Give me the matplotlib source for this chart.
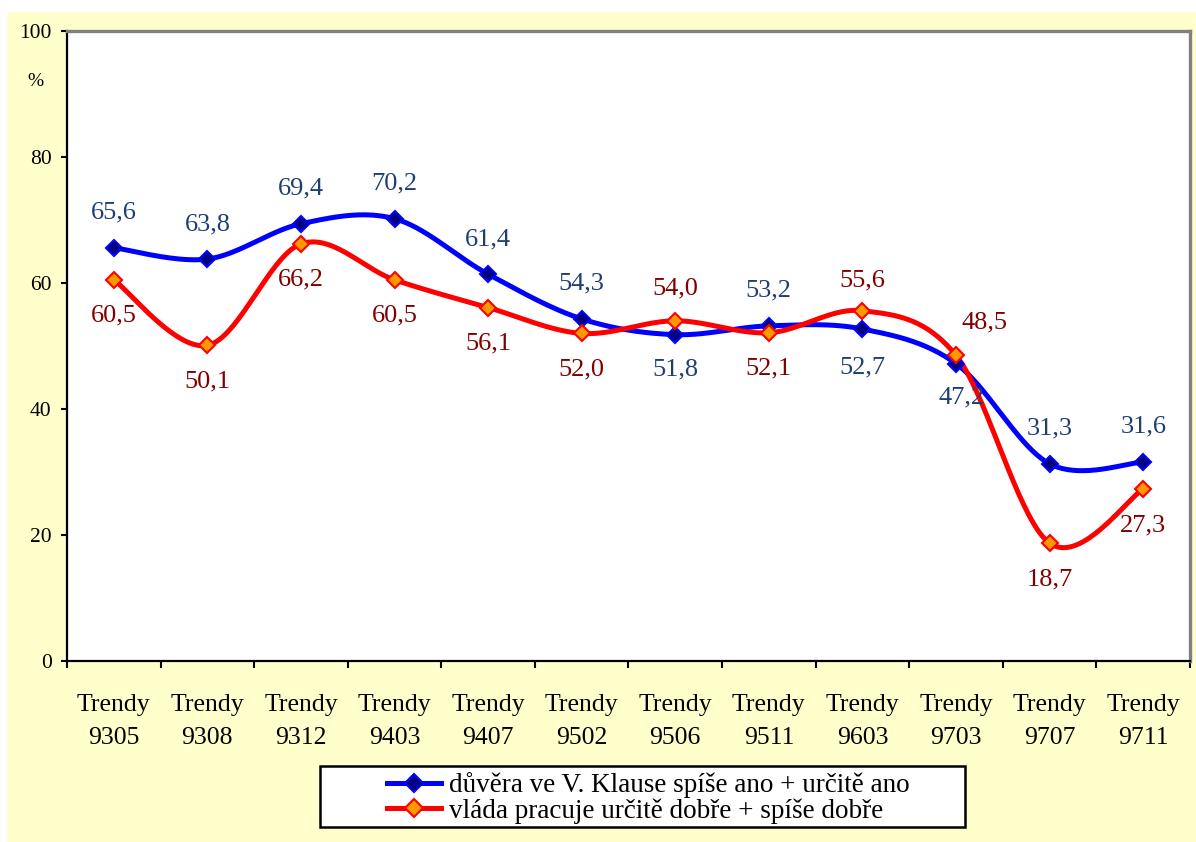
import numpy as np
import matplotlib
matplotlib.use("Agg")
import matplotlib.pyplot as plt
from matplotlib.patches import Rectangle
from matplotlib.lines import Line2D

# ---------------- data ----------------
categories = ["Trendy\n9305", "Trendy\n9308", "Trendy\n9312", "Trendy\n9403",
              "Trendy\n9407", "Trendy\n9502", "Trendy\n9506", "Trendy\n9511",
              "Trendy\n9603", "Trendy\n9703", "Trendy\n9707", "Trendy\n9711"]
klaus = [65.6, 63.8, 69.4, 70.2, 61.4, 54.3, 51.8, 53.2, 52.7, 47.2, 31.3, 31.6]
vlada = [60.5, 50.1, 66.2, 60.5, 56.1, 52.0, 54.0, 52.1, 55.6, 48.5, 18.7, 27.3]
series_names = ["důvěra ve V. Klause spíše ano + určitě ano",
                "vláda pracuje určitě dobře + spíše dobře"]
yticks = [0, 20, 40, 60, 80, 100]

# label offsets in pixels (dx, dy)
klaus_off = [(0, 35)] * 12
klaus_off[6] = (0, -35)
klaus_off[8] = (0, -38)
klaus_off[9] = (6, -34)
vlada_off = [(0, -36)] * 12
vlada_off[6] = (0, 32)
vlada_off[8] = (0, 30)
vlada_off[9] = (28, 33)

plt.rcParams["font.family"] = ["Liberation Serif", "DejaVu Serif"]


def smooth(xs, ys, n=40):
    P = np.column_stack([xs, ys]).astype(float)
    m = len(P)
    out = []
    t = np.linspace(0, 1, n)[:, None]
    for i in range(m - 1):
        p0 = P[i]
        p3 = P[i + 1]
        pm = P[i - 1] if i > 0 else P[i]
        pn = P[i + 2] if i + 2 < m else P[i + 1]
        c1 = p0 + (p3 - pm) / 6.0
        c2 = p3 - (pn - p0) / 6.0
        seg = ((1 - t) ** 3) * p0 + 3 * ((1 - t) ** 2) * t * c1 + 3 * (1 - t) * t ** 2 * c2 + t ** 3 * p3
        out.append(seg if i == 0 else seg[1:])
    S = np.vstack(out)
    return S[:, 0], S[:, 1]


W, H = 1196, 842
fig = plt.figure(figsize=(W / 100, H / 100), dpi=100, facecolor="white")
fig.patches.append(Rectangle((7 / W, 0), 1 - 7 / W, (H - 12) / H,
                             transform=fig.transFigure, facecolor="#FFFFCC",
                             edgecolor="none", zorder=-10))

L, R, T, B = 67, 1190, 31, 661
ax = fig.add_axes([L / W, (H - B) / H, (R - L) / W, (B - T) / H])
ax.set_facecolor("white")

x = np.arange(len(categories))
blue_c = "#0000FF"
red_c = "#FF0000"
klab = "#1F3F73"
vlab = "#800000"

sx, sy = smooth(x, klaus)
ax.plot(sx, sy, color=blue_c, lw=3.6, zorder=3, solid_capstyle="round")
ax.plot(x, klaus, ls="none", marker="D", ms=8.5, mfc="#000080", mec=blue_c, mew=1.5, zorder=5)
sx, sy = smooth(x, vlada)
ax.plot(sx, sy, color=red_c, lw=3.6, zorder=4, solid_capstyle="round")
ax.plot(x, vlada, ls="none", marker="D", ms=8.5, mfc="#FF9900", mec=red_c, mew=1.5, zorder=6)

for i, v in enumerate(klaus):
    ax.annotate(f"{v:.1f}".replace(".", ","), (i, v), xytext=klaus_off[i],
                textcoords="offset pixels", ha="center", va="center",
                fontsize=19, color=klab, zorder=7)
for i, v in enumerate(vlada):
    ax.annotate(f"{v:.1f}".replace(".", ","), (i, v), xytext=vlada_off[i],
                textcoords="offset pixels", ha="center", va="center",
                fontsize=19, color=vlab, zorder=7)

ax.set_xlim(-0.5, len(categories) - 0.5)
ax.set_ylim(0, 100)
ax.set_yticks(yticks)
ax.set_yticklabels([str(v) for v in yticks], fontsize=15.5)
ax.set_xticks(x)
ax.set_xticklabels(categories, fontsize=18.5, linespacing=1.65)
ax.set_xticks(np.arange(-0.5, len(categories), 1.0), minor=True)
ax.tick_params(axis="x", which="major", length=0, pad=24)
ax.tick_params(axis="x", which="minor", length=5, width=1.5, direction="out", color="black")
ax.tick_params(axis="y", which="major", length=4, width=1.5, direction="out", pad=7)

for s in ["left", "bottom"]:
    ax.spines[s].set_color("black")
    ax.spines[s].set_linewidth(1.6)
for s in ["top", "right"]:
    ax.spines[s].set_color("#808080")
    ax.spines[s].set_linewidth(2.4)

ax.text(-0.028, 0.92, "%", transform=ax.transAxes, fontsize=14, ha="center", va="center")

# legend box (drawn separately to match the wide Excel-style padding)
fig.patches.append(Rectangle((320 / W, (H - 827) / H), (965 - 320) / W, (827 - 766) / H,
                             transform=fig.transFigure, facecolor="white",
                             edgecolor="black", lw=1.8, zorder=-5))
handles = [Line2D([], [], color=blue_c, lw=3.6, marker="D", ms=9, mfc="#000080", mec=blue_c, mew=1.5),
           Line2D([], [], color=red_c, lw=3.6, marker="D", ms=9, mfc="#FF9900", mec=red_c, mew=1.5)]
leg = ax.legend(handles, series_names, loc="center left",
                bbox_to_anchor=(387 / W, (H - 798) / H),
                bbox_transform=fig.transFigure, fontsize=19.5, frameon=False,
                handlelength=2.0, handletextpad=0.3, labelspacing=0.0,
                borderpad=0, borderaxespad=0, numpoints=1)

fig.savefig("out.png", dpi=100, facecolor="white")
